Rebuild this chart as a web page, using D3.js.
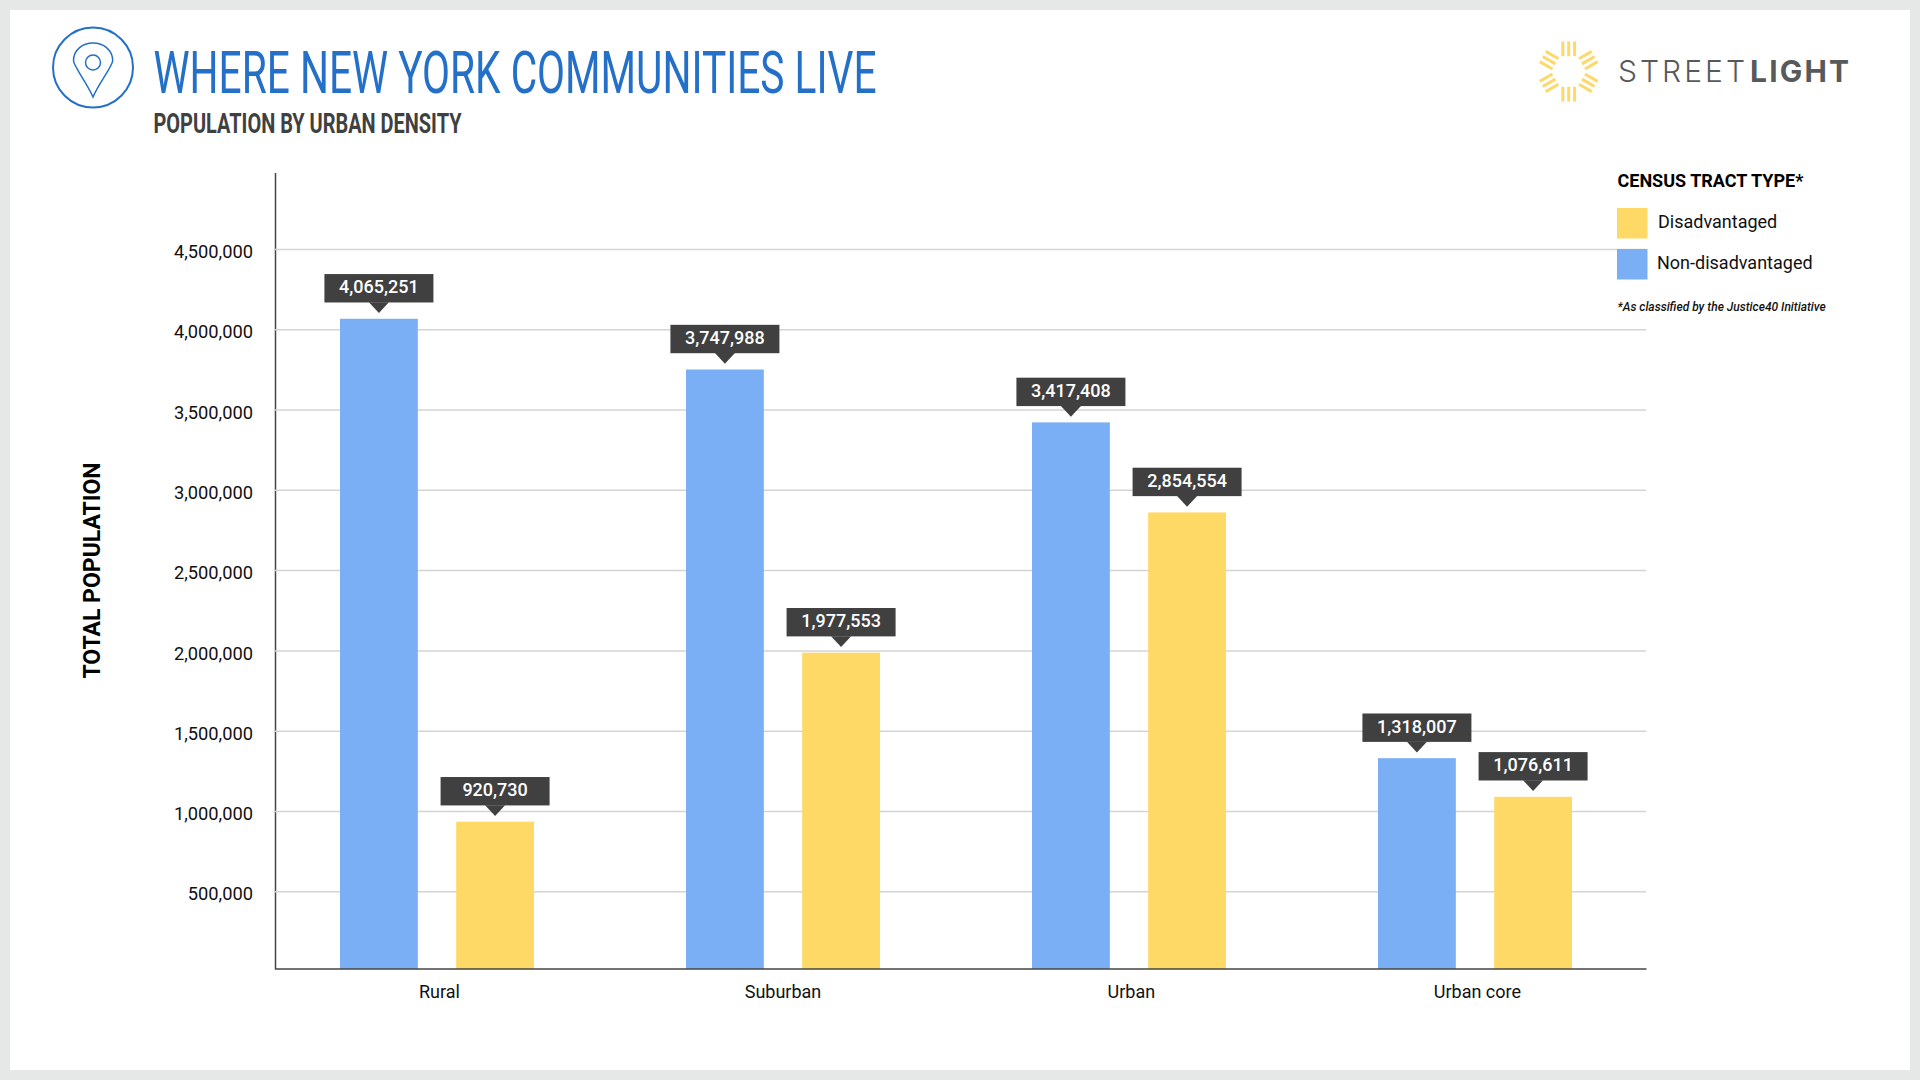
<!DOCTYPE html>
<html>
<head>
<meta charset="utf-8">
<script src="https://cdn.jsdelivr.net/npm/d3@7"></script>
<style>
  html, body { margin: 0; padding: 0; background: #e6e8e7; }
  svg { display: block; }
  text { font-family: Roboto, sans-serif; }
</style>
</head>
<body>
<div id="main-chart"></div>
<script>
const categories = ["Rural", "Suburban", "Urban", "Urban core"];
const seriesNames = ["Non-disadvantaged", "Disadvantaged"];
const nonDisadvantaged = [4065251, 3747988, 3417408, 1318007];
const disadvantaged = [920730, 1977553, 2854554, 1076611];
const yTicks = [500000, 1000000, 1500000, 2000000, 2500000, 3000000, 3500000, 4000000, 4500000];
const legendOrder = ["Disadvantaged", "Non-disadvantaged"];

const width = 1920;
const height = 1080;
const blue = "#7aaff5";
const yellow = "#ffd966";
const titleBlue = "#2470c9";
const dark = "#404040";
const sunYellow = "#fdd96a";

const colorScale = d3.scaleOrdinal().domain(seriesNames).range([blue, yellow]);

const svg = d3
  .select("#main-chart")
  .append("svg")
  .attr("width", width)
  .attr("height", height);

// white panel on the grey page
svg
  .append("rect")
  .attr("x", 10)
  .attr("y", 10)
  .attr("width", 1900)
  .attr("height", 1060)
  .attr("fill", "#fff");

// header
const pin = svg
  .append("g")
  .attr("fill", "none")
  .attr("stroke", titleBlue)
  .attr("stroke-width", 2);
pin.append("circle").attr("cx", 93).attr("cy", 67.5).attr("r", 40);
pin
  .append("path")
  .attr(
    "d",
    "M93 97 C87 83 73.5 66 73.5 60.5 C73.5 50 82.5 43 93 43 C103.5 43 112.7 50 112.7 60.5 C112.7 66 99 83 93 97 Z"
  )
  .attr("stroke-width", 1.5);
pin
  .append("circle")
  .attr("cx", 93)
  .attr("cy", 62.5)
  .attr("r", 7.5)
  .attr("stroke-width", 1.5);

svg
  .append("text")
  .attr("x", 153.5)
  .attr("y", 92.7)
  .attr("textLength", 723)
  .attr("lengthAdjust", "spacingAndGlyphs")
  .attr("fill", titleBlue)
  .style("font-size", "59px")
  .text("WHERE NEW YORK COMMUNITIES LIVE");

svg
  .append("text")
  .attr("x", 153.5)
  .attr("y", 133)
  .attr("textLength", 308)
  .attr("lengthAdjust", "spacingAndGlyphs")
  .attr("fill", dark)
  .style("font-weight", 700)
  .style("font-size", "28px")
  .text("POPULATION BY URBAN DENSITY");

// logo
const sun = svg.append("g").attr("transform", "translate(1568.7,71.5)");
sun
  .selectAll("g")
  .data(d3.range(6))
  .join("g")
  .attr("transform", (d) => `rotate(${d * 60})`)
  .selectAll("rect")
  .data([-5.9, 0, 5.9])
  .join("rect")
  .attr("x", (d) => d - 1.5)
  .attr("y", -30)
  .attr("width", 3)
  .attr("height", 14.7)
  .attr("fill", sunYellow);

const logoText = svg
  .append("g")
  .attr("fill", "#58595b")
  .style("font-size", "30px");
logoText
  .append("text")
  .attr("x", 1618)
  .attr("y", 82.3)
  .attr("textLength", 127)
  .style("font-family", "Inter, sans-serif")
  .style("font-weight", 300)
  .text("STREET");
logoText
  .append("text")
  .attr("x", 1750)
  .attr("y", 82.3)
  .attr("textLength", 99)
  .style("font-family", "Inter, sans-serif")
  .style("font-weight", 700)
  .text("LIGHT");

// scales
const plot = { left: 275.5, right: 1646.5, top: 172, bottom: 969 };

const x0 = d3.scaleBand().domain(categories).range([264, 1648]);
const x1 = d3
  .scaleBand()
  .domain(seriesNames)
  .range([0, 194])
  .paddingInner(0.33);

// the picture's gridlines sit about 2px below where the bars put the same value,
// so ticks and bars get their own scale
const yAxisScale = d3
  .scaleLinear()
  .domain([16000, 4976000])
  .range([969, plot.top + 0.5]);
const yBars = d3
  .scaleLinear()
  .domain([0, 4982844])
  .range([plot.bottom, plot.top]);

const rows = categories.map((c, i) => ({
  category: c,
  values: [
    { series: seriesNames[0], value: nonDisadvantaged[i] },
    { series: seriesNames[1], value: disadvantaged[i] },
  ],
}));

// grid and y axis
const yAxis = svg
  .append("g")
  .attr("transform", `translate(${plot.left - 0.5},0)`)
  .call(
    d3
      .axisLeft(yAxisScale)
      .tickValues(yTicks)
      .tickFormat(d3.format(","))
      .tickSize(0)
      .tickPadding(22)
  );
yAxis.select(".domain").attr("stroke", "#444").attr("stroke-width", 1.5);
yAxis
  .selectAll(".tick text")
  .attr("fill", "#111")
  .attr("dy", "0.47em")
  .style("font-size", "18.3px")
  .style("font-family", "Roboto, sans-serif");
yAxis
  .selectAll(".tick line")
  .attr("x2", plot.right - plot.left)
  .attr("stroke", "#d4d4d4")
  .attr("stroke-width", 1.5);

// bars
const groups = svg
  .selectAll(".group")
  .data(rows)
  .join("g")
  .attr("class", "group")
  .attr("transform", (d) => `translate(${x0(d.category) + (x0.bandwidth() - 194) / 2},0)`);

groups
  .selectAll("rect")
  .data((d) => d.values)
  .join("rect")
  .attr("x", (d) => x1(d.series))
  .attr("y", (d) => yBars(d.value))
  .attr("width", x1.bandwidth())
  .attr("height", (d) => plot.bottom - yBars(d.value))
  .attr("fill", (d) => colorScale(d.series));

// x axis on top of the bars
const xAxis = svg
  .append("g")
  .attr("transform", `translate(0,${plot.bottom})`)
  .call(d3.axisBottom(x0).tickSize(0).tickPadding(16));
xAxis
  .select(".domain")
  .attr("d", `M${plot.left},0H${plot.right}`)
  .attr("stroke", "#444")
  .attr("stroke-width", 1.5);
xAxis
  .selectAll(".tick text")
  .attr("fill", "#111")
  .attr("dx", (d) => (d === "Suburban" ? 0 : 2.4))
  .style("font-size", "18px")
  .style("font-family", "Roboto, sans-serif");

// value callouts
const callouts = groups
  .selectAll(".callout")
  .data((d) => d.values)
  .join("g")
  .attr("class", "callout")
  .attr(
    "transform",
    (d) => `translate(${x1(d.series) + x1.bandwidth() / 2},${yBars(d.value)})`
  );
callouts
  .append("rect")
  .attr("x", -54.5)
  .attr("y", -44.7)
  .attr("width", 109)
  .attr("height", 28.4)
  .attr("fill", dark);
callouts
  .append("path")
  .attr("d", "M-10,-16.5L10,-16.5L0,-5.7Z")
  .attr("fill", dark);
callouts
  .append("text")
  .attr("y", -25.5)
  .attr("text-anchor", "middle")
  .attr("fill", "#fff")
  .style("font-size", "18px")
  .style("font-weight", 500)
  .text((d) => d3.format(",")(d.value));

// y title
svg
  .append("text")
  .attr("transform", "translate(99.5,570.5) rotate(-90)")
  .attr("text-anchor", "middle")
  .attr("fill", "#000")
  .style("font-size", "23px")
  .style("font-weight", 700)
  .text("TOTAL POPULATION");

// legend
svg
  .append("text")
  .attr("x", 1617.5)
  .attr("y", 187)
  .attr("fill", "#000")
  .style("font-size", "18px")
  .style("font-weight", 700)
  .text("CENSUS TRACT TYPE*");

const legendY = d3.scalePoint().domain(legendOrder).range([208, 249]);
const legendItems = svg
  .selectAll(".legend-item")
  .data(legendOrder)
  .join("g")
  .attr("class", "legend-item")
  .attr("transform", (d) => `translate(1617,${legendY(d)})`);
legendItems
  .append("rect")
  .attr("width", 30.5)
  .attr("height", 30.5)
  .attr("fill", (d) => colorScale(d));
legendItems
  .append("text")
  .attr("x", (d) => (d === "Disadvantaged" ? 41 : 40))
  .attr("y", 20)
  .attr("fill", "#111")
  .style("font-size", "18px")
  .text((d) => d);

svg
  .append("text")
  .attr("x", 1617.5)
  .attr("y", 310.5)
  .attr("fill", "#111")
  .style("font-size", "12px")
  .style("font-style", "italic")
  .style("font-weight", 500)
  .text("*As classified by the Justice40 Initiative");
</script>
</body>
</html>
